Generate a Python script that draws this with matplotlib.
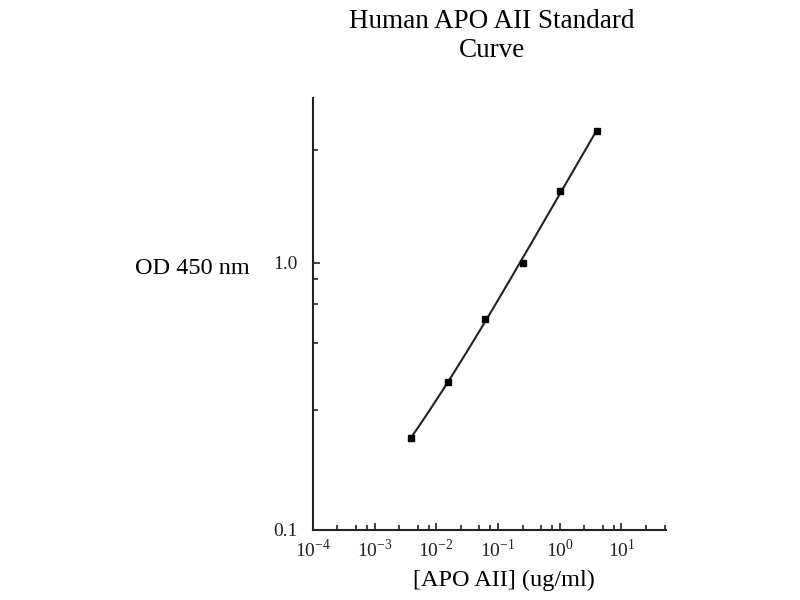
import matplotlib
matplotlib.use("Agg")
import matplotlib.pyplot as plt
import numpy as np
from matplotlib.ticker import FixedLocator, NullFormatter

plt.rcParams['font.family'] = ['Liberation Serif', 'DejaVu Serif']
plt.rcParams['mathtext.fontset'] = 'custom'
plt.rcParams['mathtext.rm'] = 'Liberation Serif'

# standard curve data
conc = [0.0039, 0.0156, 0.0625, 0.25, 1.0, 4.0]      # ug/ml
od450 = [0.221, 0.358, 0.617, 1.0, 1.86, 3.12]

x_major = [1e-4, 1e-3, 1e-2, 1e-1, 1e0, 1e1]
x_labels = ['$10^{-4}$', '$10^{-3}$', '$10^{-2}$', '$10^{-1}$', '$10^{0}$', '$10^{1}$']
y_major = [0.1, 1.0]
y_labels = ['0.1', '1.0']
y_minor = [0.28, 0.5, 0.7, 0.87, 2.65]

fig = plt.figure(figsize=(8, 6), dpi=100)
ax = fig.add_axes([0.391, 0.117, 0.441, 0.72])

# smooth fit in log-log space
lx = np.log10(conc)
ly = np.log10(od450)
coef = np.polyfit(lx, ly, 3)
xs = np.linspace(lx[0], lx[-1], 200)
ax.plot(10**xs, 10**np.polyval(coef, xs), color='#222222', lw=1.5)
ax.plot(conc, od450, 's', color='black', ms=4.5)

ax.set_xscale('log')
ax.set_yscale('log')
ax.set_xlim(1e-4, 52)
ax.set_ylim(0.1, 4.15)

ax.xaxis.set_major_locator(FixedLocator(x_major))
ax.set_xticklabels(x_labels)
xm = []
for d in range(-4, 2):
    for m in [2.5, 5, 7.5]:
        if m * 10**d < 52:
            xm.append(m * 10**d)
ax.xaxis.set_minor_locator(FixedLocator(xm))
ax.xaxis.set_minor_formatter(NullFormatter())

ax.yaxis.set_major_locator(FixedLocator(y_major))
ax.set_yticklabels(y_labels)
ax.yaxis.set_minor_locator(FixedLocator(y_minor))
ax.yaxis.set_minor_formatter(NullFormatter())

ax.tick_params(which='both', direction='in', width=1.2, colors='#222222', labelsize=14)
ax.tick_params(which='major', length=5)
ax.tick_params(which='minor', length=3.5)
ax.tick_params(axis='x', pad=6)
ax.tick_params(axis='y', pad=11)

for s in ['top', 'right']:
    ax.spines[s].set_visible(False)
for s in ['left', 'bottom']:
    ax.spines[s].set_linewidth(1.5)
    ax.spines[s].set_color('#222222')

fig.text(0.615, 0.94, 'Human APO AII Standard\nCurve', ha='center', va='center',
         fontsize=19.5, linespacing=1.25)
fig.text(0.169, 0.553, 'OD 450 nm', ha='left', va='center', fontsize=17.5)
fig.text(0.63, 0.033, '[APO AII] (ug/ml)', ha='center', va='center', fontsize=17.5)

fig.savefig('out.png', dpi=100)
